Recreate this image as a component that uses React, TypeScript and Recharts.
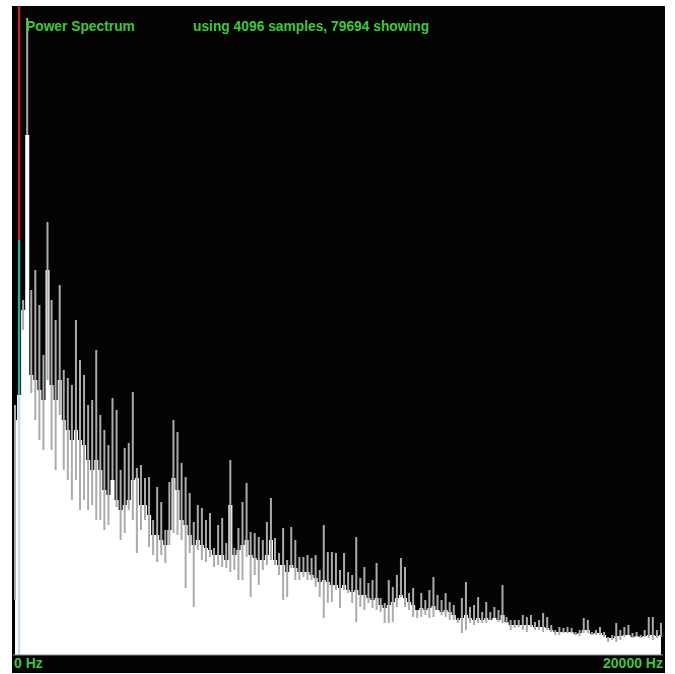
import React from 'react';
import { ComposedChart, Area, Bar, XAxis, YAxis, ReferenceLine } from 'recharts';

// levels are heights above the baseline of the plot (0..647)
const peakLevel = [
  250, 288, 355, 637, 365, 385, 350, 300, 433, 355,
  335, 370, 285, 277, 270, 335, 295, 280, 250, 255,
  305, 240, 225, 210, 257, 245, 185, 207, 212, 263,
  187, 190, 177, 178, 135, 168, 153, 125, 173, 235,
  223, 192, 178, 162, 133, 150, 147, 135, 142, 107,
  130, 137, 112, 195, 107, 127, 153, 172, 123, 122,
  118, 115, 133, 157, 117, 102, 127, 95, 128, 115,
  98, 98, 100, 97, 100, 85, 130, 103, 103, 102,
  85, 102, 83, 80, 118, 77, 88, 72, 75, 92,
  57, 52, 75, 68, 80, 97, 88, 62, 67, 45,
  62, 55, 65, 78, 60, 55, 62, 53, 50, 37,
  57, 73, 48, 50, 58, 43, 53, 43, 48, 45,
  70, 38, 35, 35, 35, 40, 38, 40, 33, 35,
  42, 38, 30, 25, 28, 27, 28, 27, 23, 25,
  37, 35, 23, 25, 28, 23, 18, 20, 32, 25,
  28, 30, 22, 23, 20, 25, 38, 38, 25, 32,
];

const floorLevel = [
  235, 260, 345, 520, 280, 275, 265, 255, 385, 270,
  255, 275, 235, 225, 215, 225, 215, 210, 195, 185,
  195, 185, 165, 160, 175, 155, 145, 150, 155, 175,
  177, 150, 150, 140, 120, 120, 115, 110, 125, 177,
  165, 135, 130, 120, 110, 115, 110, 107, 105, 100,
  100, 100, 95, 150, 100, 105, 110, 115, 100, 97,
  95, 95, 100, 115, 95, 90, 90, 83, 90, 87,
  83, 83, 83, 80, 77, 73, 75, 73, 70, 70,
  67, 70, 65, 63, 65, 60, 60, 57, 55, 57,
  50, 47, 50, 53, 57, 60, 57, 53, 50, 45,
  47, 45, 47, 49, 45, 43, 45, 43, 40, 35,
  37, 40, 37, 35, 37, 35, 37, 35, 37, 35,
  40, 33, 30, 30, 30, 30, 30, 30, 28, 28,
  28, 27, 25, 23, 23, 23, 23, 23, 21, 22,
  25, 25, 21, 22, 22, 20, 17, 17, 19, 19,
  20, 20, 18, 19, 18, 19, 20, 20, 19, 20,
];

const dipLevel = [
  55, 260, 325, 520, 262, 235, 215, 205, 275, 205,
  185, 240, 185, 175, 155, 175, 145, 155, 145, 150,
  135, 135, 125, 130, 175, 148, 115, 122, 145, 135,
  102, 125, 135, 108, 100, 93, 100, 92, 110, 122,
  120, 115, 67, 102, 48, 105, 95, 93, 98, 88,
  90, 88, 87, 83, 85, 75, 75, 98, 58, 80,
  70, 85, 90, 95, 90, 80, 55, 58, 87, 75,
  75, 78, 75, 75, 68, 58, 37, 52, 53, 65,
  47, 65, 62, 52, 33, 48, 45, 52, 47, 45,
  43, 32, 32, 33, 48, 58, 48, 45, 38, 37,
  38, 40, 37, 38, 45, 40, 38, 35, 35, 32,
  22, 25, 32, 30, 32, 32, 32, 35, 37, 33,
  32, 32, 25, 27, 28, 25, 23, 28, 25, 25,
  23, 25, 23, 20, 20, 22, 22, 22, 20, 19,
  22, 22, 20, 20, 20, 18, 13, 15, 13, 15,
  18, 20, 17, 18, 17, 18, 17, 15, 17, 18,
];

const hzLabels = ['0 Hz', '20000 Hz'];
const titleText = 'Power Spectrum';
const infoText = 'using 4096 samples, 79694 showing';

// cursor marker at bin 1
const markerBin = 1;
const markerSpans = [
  { from: 415, to: 649, color: '#b8262c' },
  { from: 260, to: 415, color: '#3aa6a8' },
  { from: 0, to: 260, color: '#bfe2ee' },
];

const data = peakLevel.map((p, i) => ({
  bin: i,
  floor: floorLevel[i],
  range: [dipLevel[i], p],
}));

const lastBin = data.length - 1;
const green = '#3cc83c';
const font = '"Liberation Sans", Arial, sans-serif';

const HzTick = (props: any) => {
  const { x, payload } = props;
  const first = payload.value === 0;
  return (
    <text
      x={first ? x - 1 : x + 2}
      y={662}
      textAnchor={first ? 'start' : 'end'}
      fill={green}
      fontSize={14}
      fontWeight="bold"
      fontFamily={font}
    >
      {first ? hzLabels[0] : hzLabels[1]}
    </text>
  );
};

export default function App() {
  return (
    <div style={{ position: 'absolute', left: 0, top: 0, width: 675, height: 674, background: '#fff' }}>
      <div style={{ position: 'absolute', left: 12, top: 6, width: 653, height: 667, background: '#050203' }}>
        <ComposedChart
          width={653}
          height={667}
          data={data}
          margin={{ top: 2, right: 2, bottom: 0, left: 1 }}
        >
          <XAxis
            dataKey="bin"
            ticks={[0, lastBin]}
            interval={0}
            tick={<HzTick />}
            tickLine={false}
            tickSize={0}
            tickMargin={0}
            height={18}
            axisLine={{ stroke: '#8a8a8a' }}
          />
          <YAxis hide domain={[0, 647]} allowDataOverflow />
          <Area
            type="step"
            dataKey="floor"
            stroke="none"
            fill="#ffffff"
            fillOpacity={1}
            isAnimationActive={false}
          />
          <Bar dataKey="range" fill="#ababab" barSize={2} isAnimationActive={false} />
          {markerSpans.map((s, k) => (
            <ReferenceLine
              key={k}
              ifOverflow="visible"
              segment={[{ x: markerBin, y: s.from }, { x: markerBin, y: s.to }]}
              stroke={s.color}
              strokeWidth={2.5}
            />
          ))}
        </ComposedChart>
        <div style={{ position: 'absolute', left: 14, top: 14, color: green, fontFamily: font, fontWeight: 'bold', fontSize: 13.8, lineHeight: '14px', whiteSpace: 'nowrap' }}>
          {titleText}
        </div>
        <div style={{ position: 'absolute', left: 181, top: 14, color: green, fontFamily: font, fontWeight: 'bold', fontSize: 13.8, lineHeight: '14px', whiteSpace: 'nowrap' }}>
          {infoText}
        </div>
      </div>
    </div>
  );
}
